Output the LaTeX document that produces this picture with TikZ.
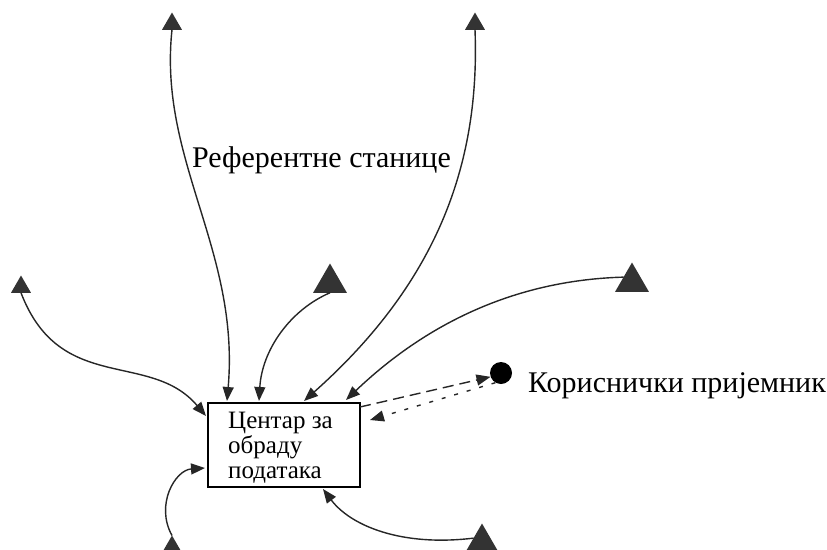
\documentclass[tikz,border=0pt]{standalone}
\usepackage{fontspec}
\setmainfont{Liberation Serif}
\usetikzlibrary{arrows.meta,shapes.geometric}
\begin{document}
\begin{tikzpicture}[x=1pt,y=-1pt,
  station/.style={regular polygon,regular polygon sides=3,fill=black!80,draw=none,inner sep=0pt,outer sep=0pt,minimum size=#1},
  link/.style={line width=1.4pt,black!85,-{Triangle[length=14pt,width=11pt]}},
  lbl/.style={font=\fontsize{30}{34}\selectfont,inner sep=0pt,anchor=base west}]
\useasboundingbox (0,0) rectangle (827,549);
% stations
\node[station=23] (t1) at (172,24) {};
\node[station=23] (t2) at (475,24) {};
\node[station=23] (t3) at (21,287) {};
\node[station=39] (t4) at (330,283) {};
\node[station=39] (t5) at (632,282) {};
\node[station=39] (t6) at (172,555) {};
\node[station=39] (t7) at (482,543) {};
% centre
\node[draw,line width=1.1pt,minimum width=152,minimum height=84,inner sep=0pt] (c) at (284,445) {};
\node[font=\fontsize{25}{25}\selectfont,align=left,anchor=north west,inner sep=0pt] (ct) at (228,411.5) {Центар за\\обраду\\података};
% receiver
\node[circle,fill=black,minimum size=22,inner sep=0pt] (r) at (501,373) {};
\node[lbl] (rl) at (528,392) {Кориснички пријемник};
\node[lbl] (sl) at (192,167) {Референтне станице};
% links
\coordinate (e1) at (227,401);
\coordinate (e2) at (304,401);
\coordinate (e3) at (206,416);
\coordinate (e4) at (259,401);
\coordinate (e5) at (346,400);
\coordinate (e6) at (205,468);
\coordinate (e7) at (323,489);
\draw[link] (t1.side 2) .. controls (158,160) and (240,250) .. (e1);
\draw[link] (t2.side 2) .. controls (480,160) and (440,280) .. (e2);
\draw[link] (t3.side 2) .. controls (60,395) and (150,350) .. (e3);
\draw[link] (t4.side 2) .. controls (290,310) and (262,350) .. (e4);
\draw[link] (t5.side 1) .. controls (520,280) and (430,320) .. (e5);
\draw[link] (t6.corner 1) .. controls (155,505) and (175,470) .. (e6);
\draw[link] (t7.side 1) .. controls (400,547) and (350,525) .. (e7);
\coordinate (d1) at (360,407);
\coordinate (d2) at (370,420);
\draw[link,dash pattern=on 11pt off 6pt] (d1) -- (r.200);
\draw[link,dash pattern=on 4pt off 9pt] (r.240) -- (d2);
\end{tikzpicture}
\end{document}
